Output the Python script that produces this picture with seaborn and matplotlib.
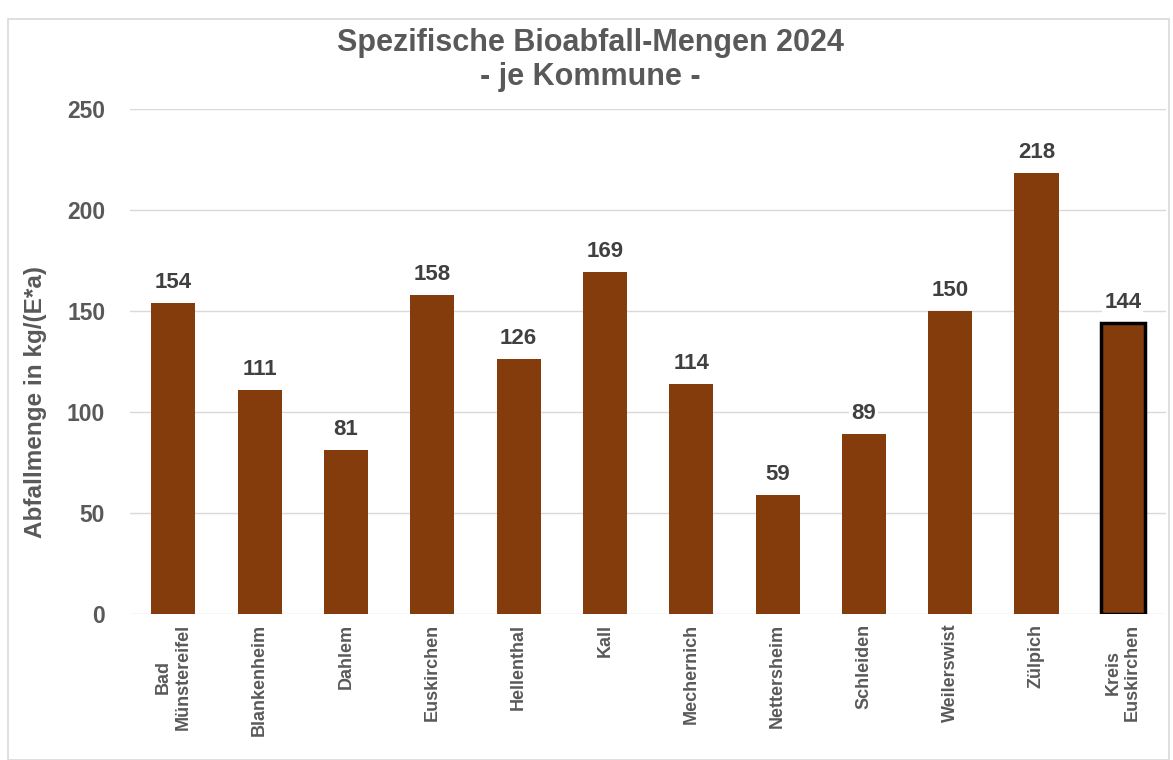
import pandas as pd
import seaborn as sns
import matplotlib.pyplot as plt
from matplotlib.patches import FancyBboxPatch

# Daten
kommunen = ["Bad\nMünstereifel", "Blankenheim", "Dahlem", "Euskirchen", "Hellenthal",
            "Kall", "Mechernich", "Nettersheim", "Schleiden", "Weilerswist",
            "Zülpich", "Kreis\nEuskirchen"]
mengen = [154, 111, 81, 158, 126, 169, 114, 59, 89, 150, 218, 144]

df = pd.DataFrame({"Kommune": kommunen, "Menge": mengen})

sns.set_theme(style="whitegrid")
plt.rcParams['font.family'] = ['Liberation Sans', 'DejaVu Sans']

grau = "#595959"
braun = "#843C0C"

fig = plt.figure(figsize=(11.73, 7.6), dpi=100)
ax = fig.add_axes([0.111, 0.192, 0.883, 0.665])

sns.barplot(data=df, x="Kommune", y="Menge", color=braun, width=0.51,
            saturation=1, ax=ax, edgecolor="none")

# Kreis Euskirchen hervorheben
ax.patches[-1].set_edgecolor("black")
ax.patches[-1].set_linewidth(2.5)

for p, v in zip(ax.patches, mengen):
    ax.text(p.get_x() + p.get_width() / 2, v + 5, str(v), ha="center", va="bottom",
            fontsize=16, fontweight="bold", color="#404040",
            bbox=dict(facecolor="white", edgecolor="none", pad=1.5))

ax.set_ylim(0, 250)
ax.set_yticks([0, 50, 100, 150, 200, 250])
ax.set_xlim(-0.5, len(kommunen) - 0.5)
ax.grid(axis="x", visible=False)
ax.grid(axis="y", color="#d9d9d9", linewidth=1)
for s in ax.spines.values():
    s.set_visible(False)
ax.set_facecolor("white")

ax.tick_params(axis="y", labelsize=16.5, labelcolor=grau, length=0, pad=18)
ax.tick_params(axis="x", labelsize=13, labelcolor=grau, length=0, pad=7)
for t in ax.get_yticklabels():
    t.set_fontweight("bold")
ax.set_xticks(range(len(kommunen)))
ax.set_xticklabels(kommunen, rotation=90, fontweight="bold", va="top",
                   ha="center", multialignment="center")

ax.set_xlabel("")
ax.set_ylabel("Abfallmenge in kg/(E*a)", fontsize=17.5, fontweight="bold", color=grau)
ax.yaxis.set_label_coords(-0.08, 0.42)

fig.text(0.503, 0.921, "Spezifische Bioabfall-Mengen 2024\n- je Kommune -",
         ha="center", va="center", fontsize=22, fontweight="bold", color=grau,
         linespacing=1.2)

# Rahmen um das Diagramm
fig.patches.append(FancyBboxPatch((0.007, 0.0), 0.99, 0.975,
                                  boxstyle="square,pad=0", transform=fig.transFigure,
                                  facecolor="none", edgecolor="#d9d9d9", linewidth=1.2))

plt.savefig("out.png", dpi=100)
